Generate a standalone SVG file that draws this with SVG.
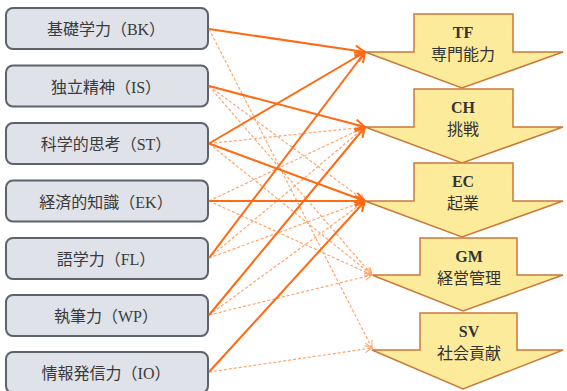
<svg xmlns="http://www.w3.org/2000/svg" width="567" height="391" viewBox="0 0 567 391">
<style>
.box{fill:#dfe2e8;stroke:#5d636c;stroke-width:2}
.lbl{font-family:"Liberation Serif","Noto Sans CJK JP",serif;font-size:16px;fill:#3a3a3a;text-anchor:middle}
.chev{fill:#fdeb9c;stroke:#c97a3a;stroke-width:1.5;stroke-linejoin:miter}
.ct{font-family:"Liberation Serif","Noto Sans CJK JP",serif;font-size:16px;fill:#333;text-anchor:middle}
.ctb{font-weight:bold}
.s{stroke:#ff6a12;stroke-width:2;fill:none}
.d{stroke:#ffa46c;stroke-width:1.2;stroke-dasharray:3 2;fill:none}
</style>
<defs>
<marker id="as" viewBox="0 0 12 12" refX="11" refY="6" markerWidth="12" markerHeight="12" markerUnits="userSpaceOnUse" orient="auto">
<path d="M1,1 L11,6 L1,11" fill="none" stroke="#ff6a12" stroke-width="2"/>
</marker>
<marker id="ad" viewBox="0 0 10 10" refX="9" refY="5" markerWidth="9" markerHeight="9" markerUnits="userSpaceOnUse" orient="auto">
<path d="M1,1 L9,5 L1,9" fill="none" stroke="#ffa46c" stroke-width="1.2"/>
</marker>
</defs>

<g id="BK"><rect class="box" x="6" y="8" width="202" height="41" rx="7"/><text class="lbl" x="106" y="35">基礎学力（BK）</text></g>
<g id="IS"><rect class="box" x="6" y="65.5" width="202" height="41" rx="7"/><text class="lbl" x="106" y="92.5">独立精神（IS）</text></g>
<g id="ST"><rect class="box" x="6" y="123" width="202" height="41" rx="7"/><text class="lbl" x="106" y="150">科学的思考（ST）</text></g>
<g id="EK"><rect class="box" x="6" y="180.5" width="202" height="41" rx="7"/><text class="lbl" x="106" y="207.5">経済的知識（EK）</text></g>
<g id="FL"><rect class="box" x="6" y="238" width="202" height="41" rx="7"/><text class="lbl" x="106" y="265">語学力（FL）</text></g>
<g id="WP"><rect class="box" x="6" y="295" width="202" height="41" rx="7"/><text class="lbl" x="106" y="322">執筆力（WP）</text></g>
<g id="IO"><rect class="box" x="6" y="352" width="202" height="41" rx="7"/><text class="lbl" x="106" y="379">情報発信力（IO）</text></g>

<g id="TF"><path class="chev" d="M414,14 H513 V52 H563 L462,88 L365,52 H414 Z"/><text class="ct ctb" x="463" y="38">TF</text><text class="ct" x="463" y="60">専門能力</text></g>
<g id="CH"><path class="chev" d="M414,89 H513 V127 H563 L462,163 L365,127 H414 Z"/><text class="ct ctb" x="463" y="113">CH</text><text class="ct" x="463" y="135">挑戦</text></g>
<g id="EC"><path class="chev" d="M414,163 H513 V201 H563 L462,237 L365,201 H414 Z"/><text class="ct ctb" x="463" y="187">EC</text><text class="ct" x="463" y="209">起業</text></g>
<g id="GM"><path class="chev" d="M420,238 H517 V275 H563 L463,311 L372,275 H420 Z"/><text class="ct ctb" x="469" y="262">GM</text><text class="ct" x="469" y="284">経営管理</text></g>
<g id="SV"><path class="chev" d="M420,313 H517 V350 H563 L463,389 L372,350 H420 Z"/><text class="ct ctb" x="469" y="337">SV</text><text class="ct" x="469" y="359">社会貢献</text></g>

<g id="connectors">
<line class="d" x1="209" y1="29" x2="372" y2="348" marker-end="url(#ad)"/>
<line class="d" x1="209" y1="86" x2="365" y2="201" marker-end="url(#ad)"/>
<line class="d" x1="209" y1="86" x2="372" y2="275" marker-end="url(#ad)"/>
<line class="d" x1="209" y1="143.5" x2="365" y2="127" marker-end="url(#ad)"/>
<line class="d" x1="209" y1="143.5" x2="372" y2="275" marker-end="url(#ad)"/>
<line class="d" x1="209" y1="201" x2="365" y2="127" marker-end="url(#ad)"/>
<line class="d" x1="209" y1="201" x2="372" y2="275" marker-end="url(#ad)"/>
<line class="d" x1="209" y1="258" x2="365" y2="127" marker-end="url(#ad)"/>
<line class="d" x1="209" y1="258" x2="365" y2="201" marker-end="url(#ad)"/>
<line class="d" x1="209" y1="315" x2="365" y2="201" marker-end="url(#ad)"/>
<line class="d" x1="209" y1="315" x2="372" y2="275" marker-end="url(#ad)"/>
<line class="d" x1="209" y1="372" x2="372" y2="348" marker-end="url(#ad)"/>
<line class="s" x1="209" y1="29" x2="365" y2="52" marker-end="url(#as)"/>
<line class="s" x1="209" y1="86" x2="365" y2="127" marker-end="url(#as)"/>
<line class="s" x1="209" y1="143.5" x2="365" y2="52" marker-end="url(#as)"/>
<line class="s" x1="209" y1="143.5" x2="365" y2="201" marker-end="url(#as)"/>
<line class="s" x1="209" y1="201" x2="365" y2="201" marker-end="url(#as)"/>
<line class="s" x1="209" y1="258" x2="365" y2="52" marker-end="url(#as)"/>
<line class="s" x1="209" y1="315" x2="365" y2="127" marker-end="url(#as)"/>
<line class="s" x1="209" y1="372" x2="365" y2="201" marker-end="url(#as)"/>
</g>
</svg>
